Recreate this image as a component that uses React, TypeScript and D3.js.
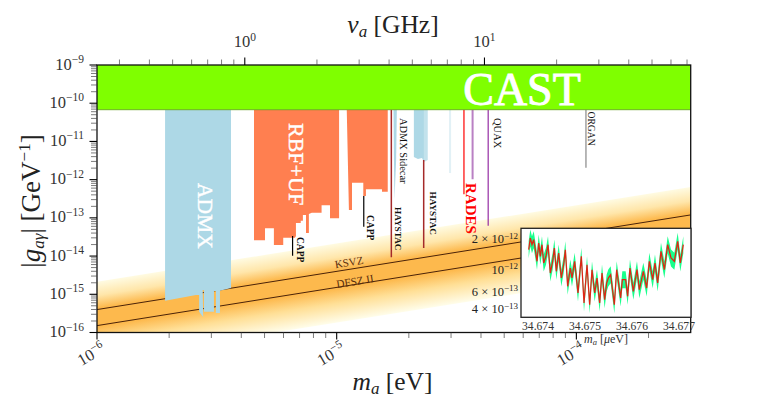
import React from "react";
import * as d3 from "d3";

const W = 772, H = 407;
// all region outlines are [log10 m_a/eV, log10 g/GeV^-1]
const castFloor = -10.17;
const admxRegion: [number, number][] = [[-5.716,-10.17],[-5.441,-10.17],[-5.441,-14.838],[-5.487,-14.908],[-5.487,-15.492],[-5.504,-15.492],[-5.504,-14.916],[-5.512,-14.916],[-5.512,-15.458],[-5.554,-15.458],[-5.554,-14.89],[-5.559,-14.89],[-5.557,-15.597],[-5.574,-15.458],[-5.574,-15.021],[-5.587,-15.021],[-5.716,-15.17]];
const rbfRegion: [number, number][] = [[-5.345,-10.17],[-4.99,-10.17],[-4.99,-13.013],[-5.028,-13.013],[-5.028,-12.673],[-5.063,-12.673],[-5.063,-12.866],[-5.104,-12.866],[-5.116,-12.901],[-5.116,-13.398],[-5.128,-13.398],[-5.128,-12.927],[-5.141,-12.927],[-5.141,-13.076],[-5.15,-13.076],[-5.15,-13.136],[-5.17,-13.136],[-5.17,-13.476],[-5.174,-13.521],[-5.223,-13.521],[-5.223,-13.712],[-5.262,-13.712],[-5.262,-13.275],[-5.299,-13.275],[-5.299,-13.589],[-5.345,-13.589]];
const ufRegion: [number, number][] = [[-4.958,-10.17],[-4.787,-10.17],[-4.787,-12.317],[-4.811,-12.317],[-4.811,-12.254],[-4.878,-12.254],[-4.878,-12.429],[-4.889,-12.429],[-4.889,-12.081],[-4.936,-12.081],[-4.936,-12.796],[-4.949,-12.796]];
const sidecarRegion: [number, number][] = [[-4.763,-10.17],[-4.749,-10.17],[-4.752,-11.5],[-4.759,-12.534],[-4.761,-11.5]];
const haystacBlue: [number, number][] = [[-4.678,-10.17],[-4.636,-10.17],[-4.636,-11.539],[-4.644,-11.435],[-4.661,-11.461],[-4.678,-11.408]];
const haystacBlueEdge: [number, number][] = [[-4.636,-10.17],[-4.62,-10.17],[-4.62,-11.487],[-4.636,-11.539]];
const capp1 = { m: -5.184, top: -13.476, bottom: -13.992 };
const capp2 = { m: -4.887, top: -12.429, bottom: -13.233 };
const haystac1 = { m: -4.772, top: -10.17, bottom: -14.034 };
const haystac2 = { m: -4.637, top: -11.487, bottom: -13.79 };
const faint = { m: -4.527, top: -10.17, bottom: -11.827 };
const rades = { m: -4.469, top: -10.17, bottom: -12.385 };
const radesPurple = { m: -4.433, top: -10.17, bottom: -11.992 };
const quax = { m: -4.368, top: -10.17, bottom: -13.207 };
const organ = { m: -3.96, top: -10.17, bottom: -11.688 };
// axion model lines: log10 g at m = 1e-6 eV, slope one
const ksvzAt1ueV = -15.4;
const dfszAt1ueV = -15.82;
const bandAbove = 0.73;
const bandBelow = 0.92;

const yDecades = [-9,-10,-11,-12,-13,-14,-15,-16];
const xDecades = [-6,-5,-4];
const nuDecades = [0,1];

const insetOffset = [-0.199,-0.163,-0.128,-0.092,-0.057,-0.021,0.014,0.05,0.085,0.121,0.17,0.213,0.262,0.312,0.348,0.39,0.44,0.496,0.546,0.582,0.631,0.688,0.723,0.78,0.851,0.922,0.979,1.043,1.099,1.149,1.206,1.255,1.312,1.362,1.418,1.461,1.496,1.546,1.624,1.674,1.759,1.794,1.865,1.908,1.957,2.028,2.106,2.156,2.241,2.312,2.369,2.44,2.489,2.546,2.617,2.688,2.759,2.83,2.901,2.972,3.028,3.092];
const insetLogG = [-11.797,-11.68,-11.747,-11.697,-11.797,-11.913,-11.73,-11.863,-11.747,-11.93,-11.863,-11.747,-12.03,-11.913,-11.78,-12.013,-11.83,-12.08,-11.947,-11.797,-12.163,-11.98,-12.08,-11.913,-12.23,-11.863,-12.33,-11.947,-12.347,-11.997,-12.23,-12.08,-12.33,-12.03,-12.297,-12.13,-12.08,-12.047,-12.347,-11.997,-12.28,-12.097,-12.097,-12.263,-11.98,-12.213,-11.997,-12.197,-12.013,-12.18,-11.913,-12.097,-11.93,-12.13,-11.813,-11.997,-11.747,-11.88,-11.913,-11.713,-11.93,-11.747];
const insetXTicks = [34.674,34.675,34.676,34.677];
const insetYTicks = [{ v: 2e-12, pre: "2 × 10", e: "−12" },{ v: 1e-12, pre: "10", e: "−12" },{ v: 6e-13, pre: "6 × 10", e: "−13" },{ v: 4e-13, pre: "4 × 10", e: "−13" }];
const insetBandHalf = 0.085;

const plot = { l: 97, r: 690.7, t: 65, b: 332.5 };
const x = d3.scaleLog().domain([1e-6, 10 ** -3.523]).range([plot.l, plot.r]);
const y = d3.scaleLog().domain([1e-16, 1e-9]).range([plot.b, plot.t]);
const GHz = 4.136e-6;
const nu = d3.scaleLog().domain([1e-6 / GHz, 10 ** -3.523 / GHz]).range([plot.l, plot.r]);
const X = (lm: number) => x(10 ** lm);
const Y = (lg: number) => y(10 ** lg);
const outline = d3.line<[number, number]>().x(d => X(d[0])).y(d => Y(d[1])).curve(d3.curveLinearClosed);

const inset = { l: 521, r: 691, t: 228.3, b: 317.3 };
const ix = d3.scaleLinear().domain([34.674, 34.677]).range([538, 679]);
const iy = d3.scaleLog().domain([10 ** -12.473, 10 ** -11.583]).range([inset.b, inset.t]);
const insetPts = insetOffset.map((o, i) => ({ m: 34.674 + o / 1000, g: insetLogG[i] }));
const insetLine = d3.line<{ m: number; g: number }>().x(d => ix(d.m)).y(d => iy(10 ** d.g));
const insetArea = d3.area<{ m: number; g: number }>().x(d => ix(d.m)).y0(d => iy(10 ** (d.g - insetBandHalf))).y1(d => iy(10 ** (d.g + insetBandHalf)));

const SERIF = "'Liberation Serif', serif";
const TXT = "#222";

function Pow({ b, e, size, supSize, rise }: { b: string; e: string; size: number; supSize: number; rise: number }) {
  return (
    <>
      <tspan fontSize={size}>{b}</tspan>
      <tspan fontSize={supSize} dy={-rise}>{e}</tspan>
    </>
  );
}

function V({ d, color, w, op = 1 }: { d: { m: number; top: number; bottom: number }; color: string; w: number; op?: number }) {
  return <line x1={X(d.m)} x2={X(d.m)} y1={Y(d.top)} y2={Y(d.bottom)} stroke={color} strokeWidth={w} opacity={op} />;
}

function VLabel({ text, px, py, size, color = "#111", bold = false, halo = 0 }: { text: string; px: number; py: number; size: number; color?: string; bold?: boolean; halo?: number }) {
  return (
    <text transform={`translate(${px},${py}) rotate(90)`} fontFamily={SERIF} fontSize={size} fill={color} fontWeight={bold ? 700 : 400} stroke={halo ? color : "none"} strokeWidth={halo}>
      {text}
    </text>
  );
}

export default function App() {
  const k = (y(1e-15) - y(1e-14)) / (x(1e-4) - x(1e-5));
  const lm0 = -6, lm1 = -3.523;
  const bandPts = [lm0, lm1];
  const band = d3.area<number>().x(d => X(d))
    .y0(d => Y(dfszAt1ueV - bandBelow + (d + 6)))
    .y1(d => Y(ksvzAt1ueV + bandAbove + (d + 6)));
  const modelLine = (at: number) => d3.line<number>().x(d => X(d)).y(d => Y(at + (d + 6)))(bandPts) as string;
  const xRef = X(lm0);
  const yTop = Y(ksvzAt1ueV + bandAbove);
  const V0 = Y(dfszAt1ueV - bandBelow) - yTop;
  const theta = Math.atan(k);
  const L = V0 * Math.cos(theta);
  const gx2 = xRef + L * Math.sin(theta), gy2 = yTop + L * Math.cos(theta);
  const total = bandAbove + (ksvzAt1ueV - dfszAt1ueV) + bandBelow;
  const s1 = bandAbove / total;
  const s2 = (bandAbove + (ksvzAt1ueV - dfszAt1ueV)) / total;

  return (
    <svg width={W} height={H} viewBox={`0 0 ${W} ${H}`} style={{ position: "absolute", left: 0, top: 0, background: "#fff" }}>
      <defs>
        <linearGradient id="band" gradientUnits="userSpaceOnUse" x1={xRef} y1={yTop} x2={gx2} y2={gy2}>
          <stop offset={0} stopColor="#fffbe2" />
          <stop offset={s1 * 0.5} stopColor="#ffe6aa" />
          <stop offset={s1 * 0.95} stopColor="#fdb94d" />
          <stop offset={s2 * 1.03} stopColor="#fdb94d" />
          <stop offset={s2 + (1 - s2) * 0.45} stopColor="#ffdf96" />
          <stop offset={1} stopColor="#fffdea" />
        </linearGradient>
        <clipPath id="plot"><rect x={plot.l} y={plot.t} width={plot.r - plot.l} height={plot.b - plot.t} /></clipPath>
      </defs>

      <g clipPath="url(#plot)">
        <path d={band(bandPts) as string} fill="url(#band)" />
        <path d={modelLine(ksvzAt1ueV)} stroke="#4a2208" strokeWidth={1} fill="none" />
        <path d={modelLine(dfszAt1ueV)} stroke="#4a2208" strokeWidth={1} fill="none" />
        <path d={outline(admxRegion) as string} fill="#add8e6" />
        <path d={outline(rbfRegion) as string} fill="#ff7f50" />
        <path d={outline(ufRegion) as string} fill="#ff7f50" />
        <path d={outline(sidecarRegion) as string} fill="#add8e6" />
        <path d={outline(haystacBlue) as string} fill="#add8e6" />
        <path d={outline(haystacBlueEdge) as string} fill="#add8e6" opacity={0.75} />
        <V d={faint} color="#add8e6" w={2} op={0.35} />
        <V d={capp1} color="#000" w={1.2} />
        <V d={capp2} color="#000" w={1.2} />
        <V d={haystac1} color="#a52a2a" w={1.5} />
        <V d={haystac2} color="#a52a2a" w={1.5} />
        <V d={rades} color="#f00" w={1.2} />
        <V d={radesPurple} color="#ba80c4" w={2} />
        <V d={quax} color="#8b1a9b" w={1.1} />
        <V d={organ} color="#888" w={1.2} />
        <rect x={plot.l} y={plot.t} width={plot.r - plot.l} height={Y(castFloor) - plot.t} fill="#7fff00" />
        <line x1={plot.l} x2={plot.r} y1={Y(castFloor)} y2={Y(castFloor)} stroke="#5c9a14" strokeWidth={0.8} />
      </g>

      <text x={522} y={105} textAnchor="middle" fontFamily={SERIF} fontSize={46} fill="#fff" stroke="#fff" strokeWidth={0.9}>CAST</text>
      <VLabel text="ADMX" px={197.5} py={183} size={21.5} color="#fff" halo={0.4} />
      <VLabel text="RBF+UF" px={288.5} py={123} size={22} color="#fff" halo={0.4} />
      <VLabel text="CAPP" px={297} py={237} size={9.5} bold />
      <VLabel text="CAPP" px={366.5} py={215} size={9.5} bold />
      <VLabel text="HAYSTAC" px={395} py={207} size={9.2} bold />
      <VLabel text="HAYSTAC" px={430} py={191.5} size={9.2} bold />
      <VLabel text="ADMX Sidecar" px={400} py={118} size={10.4} />
      <VLabel text="RADES" px={466} py={183} size={15} color="#f00" bold />
      <VLabel text="QUAX" px={493.5} py={118} size={10.5} />
      <VLabel text="ORGAN" px={588} py={111.5} size={9.6} />
      <text transform={`translate(349,262) rotate(-9)`} textAnchor="middle" dominantBaseline="central" fontFamily={SERIF} fontSize={11} fill="#5a2d0c">KSVZ</text>
      <text transform={`translate(355,281) rotate(-9)`} textAnchor="middle" dominantBaseline="central" fontFamily={SERIF} fontSize={11.2} fill="#5a2d0c">DFSZ II</text>

      {/* frame */}
      <rect x={plot.l} y={plot.t} width={plot.r - plot.l} height={plot.b - plot.t} fill="none" stroke="#111" strokeWidth={1.3} />

      {/* left axis */}
      {y.ticks().map((t, i) => {
        const major = Math.abs(Math.log10(t) - Math.round(Math.log10(t))) < 1e-6;
        return <line key={i} x1={major ? plot.l - 7.5 : plot.l - 6} x2={plot.l} y1={y(t)} y2={y(t)} stroke={major ? "#000" : "#444"} strokeWidth={major ? 1.1 : 0.7} />;
      })}
      {yDecades.map(d => (
        <text key={d} x={84} y={y(10 ** d) + 4.5} textAnchor="end" fontFamily={SERIF} fill="#333">
          <Pow b="10" e={d < 0 ? `−${-d}` : `${d}`} size={16.5} supSize={11.5} rise={6.5} />
        </text>
      ))}

      {/* bottom axis */}
      {x.ticks().map((t, i) => {
        const major = Math.abs(Math.log10(t) - Math.round(Math.log10(t))) < 1e-6;
        return <line key={i} x1={x(t)} x2={x(t)} y1={plot.b} y2={plot.b + (major ? 7 : 5.5)} stroke={major ? "#000" : "#444"} strokeWidth={major ? 1.1 : 0.7} />;
      })}
      {xDecades.map(d => (
        <text key={d} transform={`translate(${x(10 ** d) - 3},359) rotate(-30)`} textAnchor="middle" fontFamily={SERIF} fill="#333">
          <Pow b="10" e={`−${-d}`} size={16.5} supSize={11.5} rise={6.5} />
        </text>
      ))}

      {/* top axis */}
      {nu.ticks().map((t, i) => {
        const major = Math.abs(Math.log10(t) - Math.round(Math.log10(t))) < 1e-6;
        return <line key={i} x1={nu(t)} x2={nu(t)} y1={plot.t} y2={plot.t - (major ? 7.5 : 5.5)} stroke={major ? "#000" : "#444"} strokeWidth={major ? 1.1 : 0.7} />;
      })}
      {nuDecades.map(d => (
        <text key={d} x={nu(10 ** d)} y={47} textAnchor="middle" fontFamily={SERIF} fill="#333">
          <Pow b="10" e={`${d}`} size={16.5} supSize={11.5} rise={6.5} />
        </text>
      ))}

      {/* axis titles */}
      <text x={393} y={33} textAnchor="middle" fontFamily={SERIF} fontSize={25.5} fill={TXT}>
        <tspan fontStyle="italic">ν</tspan><tspan fontStyle="italic" fontSize={17} dy={4}>a</tspan><tspan dy={-4}> [GHz]</tspan>
      </text>
      <text x={392.5} y={390} textAnchor="middle" fontFamily={SERIF} fontSize={25.5} fill={TXT}>
        <tspan fontStyle="italic">m</tspan><tspan fontStyle="italic" fontSize={17} dy={4}>a</tspan><tspan dy={-4}> [eV]</tspan>
      </text>
      <text transform="translate(40,201) rotate(-90)" textAnchor="middle" fontFamily={SERIF} fontSize={27} fill={TXT}>
        <tspan>|</tspan><tspan fontStyle="italic">g</tspan><tspan fontStyle="italic" fontSize={17} dy={4}>aγ</tspan><tspan dy={-4}>| [GeV</tspan><tspan fontSize={17} dy={-10}>−1</tspan><tspan dy={10}>]</tspan>
      </text>

      {/* inset */}
      <rect x={inset.l} y={inset.t} width={inset.r - inset.l} height={inset.b - inset.t} fill="#fff" stroke="#222" strokeWidth={1.3} />
      <path d={insetArea(insetPts) as string} fill="#00ff7f" opacity={0.9} />
      <path d={insetLine(insetPts) as string} fill="none" stroke="#ff0000" strokeWidth={1.3} opacity={0.85} />
      {insetXTicks.map(t => (
        <text key={t} x={ix(t)} y={329.5} textAnchor="middle" fontFamily={SERIF} fontSize={11.6} fill="#333">{t.toFixed(3)}</text>
      ))}
      {insetYTicks.map(t => (
        <text key={t.v} x={518} y={iy(t.v) + 3.5} textAnchor="end" fontFamily={SERIF} fill="#222">
          <Pow b={t.pre} e={t.e} size={12.5} supSize={9} rise={4.5} />
        </text>
      ))}
      <text x={606} y={343} textAnchor="middle" fontFamily={SERIF} fontSize={12} fill="#333">
        <tspan fontStyle="italic">m</tspan><tspan fontStyle="italic" fontSize={8.5} dy={2}>a</tspan><tspan dy={-2}> [</tspan><tspan fontStyle="italic">μ</tspan><tspan>eV]</tspan>
      </text>
    </svg>
  );
}
